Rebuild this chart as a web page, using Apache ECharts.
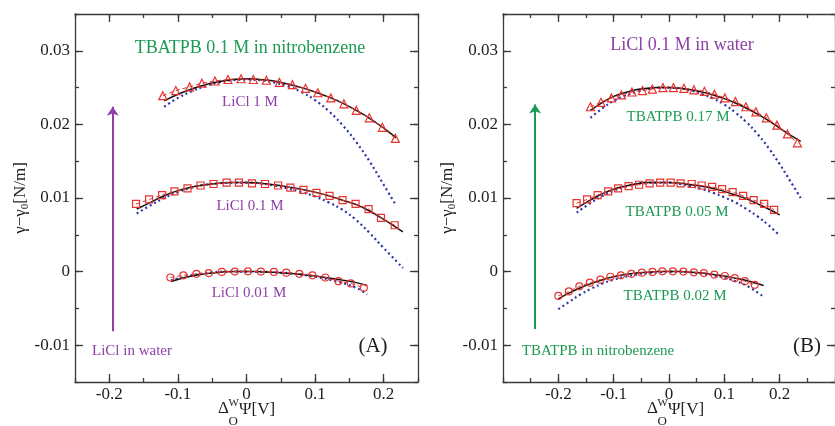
<!DOCTYPE html>
<html><head><meta charset="utf-8">
<script src="https://cdn.jsdelivr.net/npm/echarts@6/dist/echarts.min.js"></script>
<style>html,body{margin:0;padding:0;background:#fff}#c{width:835px;height:426px}</style>
</head><body><div id="c"></div><script>
// ---------- Panel A : TBATPB 0.1 M in nitrobenzene, LiCl varies ----------
// LiCl 1 M (triangles)
const A1x = [-0.122,-0.103,-0.083,-0.065,-0.046,-0.027,-0.008,0.010,0.029,0.048,0.067,0.086,0.104,0.123,0.142,0.160,0.179,0.198,0.217];
const A1y = [0.0239,0.0246,0.0251,0.0256,0.0259,0.0261,0.0262,0.0261,0.0260,0.0257,0.0254,0.0249,0.0243,0.0236,0.0228,0.0219,0.0209,0.0196,0.0181];
const A1cx = [-0.12,-0.1,-0.08,-0.06,-0.04,-0.02,0,0.02,0.04,0.06,0.08,0.1,0.12,0.14,0.16,0.18,0.2,0.218];
const A1fit = [0.0232,0.0241,0.0248,0.0254,0.0258,0.0261,0.0262,0.0261,0.0259,0.0255,0.0250,0.0244,0.0237,0.0229,0.0219,0.0208,0.0195,0.0182];
const A1dot = [0.0224,0.0236,0.0245,0.0252,0.0257,0.0260,0.0261,0.0260,0.0257,0.0252,0.0244,0.0233,0.0218,0.0199,0.0176,0.0149,0.0118,0.0090];
// LiCl 0.1 M (squares)
const A2x = [-0.161,-0.142,-0.123,-0.105,-0.086,-0.067,-0.048,-0.029,-0.011,0.008,0.027,0.046,0.064,0.083,0.102,0.121,0.140,0.159,0.178,0.196,0.216];
const A2y = [0.0092,0.0098,0.0104,0.0109,0.0113,0.0117,0.0119,0.0121,0.0121,0.0120,0.0119,0.0117,0.0114,0.0111,0.0107,0.0103,0.0097,0.0092,0.0085,0.0073,0.0063];
const A2cx = [-0.16,-0.14,-0.12,-0.1,-0.08,-0.06,-0.04,-0.02,0,0.02,0.04,0.06,0.08,0.1,0.12,0.14,0.16,0.18,0.2,0.228];
const A2fit = [0.0085,0.0094,0.0103,0.0110,0.0115,0.0118,0.0120,0.0121,0.0121,0.0120,0.0118,0.0115,0.0112,0.0108,0.0103,0.0097,0.0091,0.0082,0.0071,0.0054];
const A2dot = [0.0079,0.0090,0.0100,0.0108,0.0114,0.0118,0.0120,0.0121,0.0121,0.0120,0.0117,0.0113,0.0108,0.0102,0.0094,0.0084,0.0070,0.0052,0.0032,0.0005];
// LiCl 0.01 M (circles)
const A3x = [-0.111,-0.092,-0.073,-0.055,-0.036,-0.017,0.002,0.021,0.040,0.058,0.077,0.096,0.115,0.134,0.152,0.171];
const A3y = [-0.0008,-0.0005,-0.0003,-0.0002,-0.00004,0,0.00004,0,-0.00004,-0.00014,-0.0003,-0.0005,-0.0008,-0.0013,-0.0016,-0.0022];
const A3cx = [-0.11,-0.08,-0.05,-0.02,0.01,0.04,0.07,0.1,0.13,0.16,0.176];
const A3fit = [-0.00135,-0.0006,-0.0002,0,0,-0.0001,-0.0003,-0.0006,-0.0010,-0.0015,-0.0019];
const A3dot = [-0.0012,-0.0005,-0.0001,0,0,-0.0001,-0.0003,-0.0007,-0.0013,-0.0022,-0.0031];

// ---------- Panel B : LiCl 0.1 M in water, TBATPB varies ----------
// TBATPB 0.17 M (triangles)
const B1x = [-0.142,-0.123,-0.104,-0.086,-0.067,-0.048,-0.030,-0.011,0.008,0.027,0.045,0.064,0.082,0.101,0.120,0.139,0.157,0.176,0.195,0.214,0.232];
const B1y = [0.0224,0.0230,0.0236,0.0240,0.0244,0.0246,0.0248,0.0250,0.0250,0.0249,0.0247,0.0245,0.0241,0.0236,0.0231,0.0224,0.0217,0.0209,0.0199,0.0187,0.0175];
const B1cx = [-0.142,-0.12,-0.1,-0.08,-0.06,-0.04,-0.02,0,0.02,0.04,0.06,0.08,0.1,0.12,0.14,0.16,0.18,0.2,0.22,0.238];
const B1fit = [0.0219,0.0230,0.0238,0.0243,0.0247,0.0249,0.0250,0.0250,0.0249,0.0247,0.0244,0.0240,0.0235,0.0229,0.0222,0.0214,0.0205,0.0195,0.0185,0.0177];
const B1dot = [0.0209,0.0222,0.0232,0.0239,0.0244,0.0248,0.0250,0.0250,0.0249,0.0246,0.0241,0.0235,0.0227,0.0216,0.0203,0.0187,0.0168,0.0146,0.0122,0.0100];
// TBATPB 0.05 M (squares)
const B2x = [-0.167,-0.148,-0.129,-0.110,-0.092,-0.073,-0.054,-0.035,-0.016,0.003,0.021,0.041,0.059,0.078,0.096,0.115,0.134,0.153,0.172,0.190];
const B2y = [0.0093,0.0098,0.0104,0.0109,0.0113,0.0116,0.0118,0.0120,0.0121,0.0121,0.0120,0.0119,0.0117,0.0115,0.0112,0.0108,0.0103,0.0097,0.0092,0.0084];
const B2cx = [-0.167,-0.14,-0.12,-0.1,-0.08,-0.06,-0.04,-0.02,0,0.02,0.04,0.06,0.08,0.1,0.12,0.14,0.16,0.18,0.2];
const B2fit = [0.0086,0.0098,0.0106,0.0112,0.0116,0.0119,0.0121,0.0121,0.0121,0.0120,0.0118,0.0116,0.0113,0.0109,0.0104,0.0099,0.0092,0.0085,0.0077];
const B2dot = [0.0080,0.0094,0.0103,0.0110,0.0115,0.0119,0.0121,0.0121,0.0121,0.0119,0.0116,0.0112,0.0107,0.0101,0.0094,0.0085,0.0075,0.0063,0.0049];
// TBATPB 0.02 M (circles)
const B3x = [-0.200,-0.181,-0.162,-0.143,-0.124,-0.106,-0.087,-0.068,-0.049,-0.030,-0.012,0.007,0.026,0.045,0.063,0.082,0.101,0.119,0.137,0.155];
const B3y = [-0.0033,-0.0027,-0.0020,-0.0015,-0.0011,-0.0007,-0.0005,-0.0003,-0.00014,-0.00004,0.00004,0.00004,0,-0.0001,-0.0002,-0.0004,-0.0006,-0.0009,-0.0013,-0.0018];
const B3cx = [-0.2,-0.18,-0.16,-0.14,-0.12,-0.1,-0.08,-0.06,-0.04,-0.02,0,0.02,0.04,0.06,0.08,0.1,0.12,0.14,0.171];
const B3fit = [-0.0037,-0.0029,-0.0022,-0.0016,-0.0011,-0.0007,-0.0004,-0.0002,-0.0001,0,0,0,-0.0001,-0.0002,-0.0004,-0.0006,-0.0009,-0.0012,-0.0019];
const B3dot = [-0.0051,-0.0041,-0.0031,-0.0023,-0.0016,-0.0011,-0.0007,-0.0004,-0.0002,-0.0001,0,0,-0.0001,-0.0003,-0.0005,-0.0008,-0.0013,-0.0019,-0.0034];

// tick labels
const xTicks = [-0.2,-0.1,0,0.1,0.2];
const yTicks = [-0.01,0,0.01,0.02,0.03];
// arrows (data coords)
const arrowA = {x:-0.195, from:-0.0081, to:0.0224};
const arrowB = {x:-0.242, from:-0.0078, to:0.0227};

const FONT = 'Liberation Serif';
const RED = '#e8332e', BLUE = '#2b36a6', PURPLE = '#8e3fa8', GREEN = '#1c9a52', AXC = '#3a3a3a', TXT = '#1e1e1e';
const fmtX = v => Math.abs(v) < 1e-9 ? '0' : v.toFixed(1);
const fmtY = v => Math.abs(v) < 1e-9 ? '0' : v.toFixed(2);
const zip = (a, b) => a.map((v, i) => [v, b[i]]);
const tickStyle = {color: AXC, width: 1.3};

function makeAxes(gi, min, max, step, majors, fmt, isX) {
  const common = {type: 'value', gridIndex: gi, min, max, interval: step, splitLine: {show: false}};
  const p1 = isX ? 'bottom' : 'left', p2 = isX ? 'top' : 'right';
  return [
    Object.assign({}, common, {position: p1, axisLine: {show: true, onZero: false, lineStyle: tickStyle},
      axisTick: {show: true, inside: true, length: 4, lineStyle: tickStyle},
      axisLabel: {show: true, customValues: majors, formatter: fmt, fontFamily: FONT, fontSize: 17, color: TXT, margin: isX ? 4 : 5}}),
    Object.assign({}, common, {position: p1, axisLine: {show: false, onZero: false},
      axisTick: {show: true, inside: true, length: 8, customValues: majors, lineStyle: tickStyle}, axisLabel: {show: false}}),
    Object.assign({}, common, {position: p2, axisLine: {show: true, onZero: false, lineStyle: tickStyle},
      axisTick: {show: true, inside: true, length: 4, lineStyle: tickStyle}, axisLabel: {show: false}}),
    Object.assign({}, common, {position: p2, axisLine: {show: false, onZero: false},
      axisTick: {show: true, inside: true, length: 8, customValues: majors, lineStyle: tickStyle}, axisLabel: {show: false}})
  ];
}

function group(ai, px, py, cx, fit, dot, symbol, size) {
  return [
    {type: 'line', xAxisIndex: ai, yAxisIndex: ai, data: zip(cx, dot), symbol: 'none', smooth: 0.4,
     lineStyle: {color: BLUE, width: 2.2, type: [2, 3]}, z: 2, silent: true},
    {type: 'line', xAxisIndex: ai, yAxisIndex: ai, data: zip(cx, fit), symbol: 'none', smooth: 0.4,
     lineStyle: {color: '#111', width: 1.5}, z: 3, silent: true},
    {type: 'line', xAxisIndex: ai, yAxisIndex: ai, data: zip(px, py), symbol, symbolSize: size, showAllSymbol: true,
     itemStyle: {color: 'rgba(255,255,255,0)', borderColor: RED, borderWidth: 1.2},
     lineStyle: {color: RED, width: 1, type: [4, 3]}, z: 4, silent: true}
  ];
}

function arrowSeries(ai, a, color) {
  return {type: 'line', xAxisIndex: ai, yAxisIndex: ai, data: [], silent: true,
    markLine: {silent: true, symbol: ['none', 'arrow'], symbolSize: 9, animation: false,
      lineStyle: {color, width: 2, type: 'solid'}, label: {show: false},
      data: [[{coord: [a.x, a.from]}, {coord: [a.x, a.to]}]]}};
}

const series = [].concat(
  group(0, A1x, A1y, A1cx, A1fit, A1dot, 'triangle', 8),
  group(0, A2x, A2y, A2cx, A2fit, A2dot, 'rect', 7),
  group(0, A3x, A3y, A3cx, A3fit, A3dot, 'circle', 7),
  group(4, B1x, B1y, B1cx, B1fit, B1dot, 'triangle', 8),
  group(4, B2x, B2y, B2cx, B2fit, B2dot, 'rect', 7),
  group(4, B3x, B3y, B3cx, B3fit, B3dot, 'circle', 7),
  [arrowSeries(0, arrowA, PURPLE), arrowSeries(4, arrowB, GREEN)]
);

function txt(x, y, text, size, color) {
  return {type: 'text', x, y, silent: true,
    style: {text, fontFamily: FONT, fontSize: size, fill: color, align: 'center', verticalAlign: 'middle'}};
}
function xName(cx) {
  const s = cx - 28.5;
  return [
    {type: 'text', x: s, y: 409, silent: true, style: {text: 'Δ', fontFamily: FONT, fontSize: 17, fill: TXT, align: 'left', verticalAlign: 'middle'}},
    {type: 'text', x: s + 10.5, y: 403, silent: true, style: {text: 'W', fontFamily: FONT, fontSize: 11, fill: TXT, align: 'left', verticalAlign: 'middle'}},
    {type: 'text', x: s + 10.5, y: 422, silent: true, style: {text: 'O', fontFamily: FONT, fontSize: 13, fill: TXT, align: 'left', verticalAlign: 'middle'}},
    {type: 'text', x: s + 21, y: 410, silent: true, style: {text: 'Ψ[V]', fontFamily: FONT, fontSize: 17, fill: TXT, align: 'left', verticalAlign: 'middle'}}
  ];
}
function yName(x, y) {
  return {type: 'text', x, y, rotation: Math.PI / 2, silent: true,
    style: {text: '{a|γ−γ}{s|0}{a|[N/m]}', align: 'center', verticalAlign: 'middle',
      rich: {a: {fontFamily: FONT, fontSize: 17, fill: TXT, lineHeight: 20},
             s: {fontFamily: FONT, fontSize: 11, fill: TXT, lineHeight: 12, verticalAlign: 'bottom'}}}};
}

const graphic = [
  txt(250, 48, 'TBATPB 0.1 M in nitrobenzene', 18, GREEN),
  txt(250, 102, 'LiCl 1 M', 15, PURPLE),
  txt(250, 206, 'LiCl 0.1 M', 15, PURPLE),
  txt(249, 293, 'LiCl 0.01 M', 15, PURPLE),
  txt(132, 351, 'LiCl in water', 15, PURPLE),
  txt(373, 346, '(A)', 21, TXT),
  txt(682, 45, 'LiCl 0.1 M in water', 18, PURPLE),
  txt(678, 117, 'TBATPB 0.17 M', 15, GREEN),
  txt(677, 212, 'TBATPB 0.05 M', 15, GREEN),
  txt(675, 296, 'TBATPB 0.02 M', 15, GREEN),
  txt(598, 351, 'TBATPB in nitrobenzene', 15, GREEN),
  txt(807, 346, '(B)', 21, TXT),
  yName(21, 198), yName(448, 198)
].concat(xName(246.5), xName(675.5));

const chart = echarts.init(document.getElementById('c'), null, {renderer: 'canvas'});
chart.setOption({
  animation: false,
  backgroundColor: '#fff',
  grid: [
    {left: 75, top: 14, width: 343, height: 368, show: false},
    {left: 503, top: 14, width: 345, height: 368, show: false}
  ],
  xAxis: [].concat(makeAxes(0, -0.25, 0.25, 0.05, xTicks, fmtX, true), makeAxes(1, -0.3, 0.3, 0.05, xTicks, fmtX, true)),
  yAxis: [].concat(makeAxes(0, -0.015, 0.035, 0.005, yTicks, fmtY, false), makeAxes(1, -0.015, 0.035, 0.005, yTicks, fmtY, false)),
  series,
  graphic
});
</script></body></html>
